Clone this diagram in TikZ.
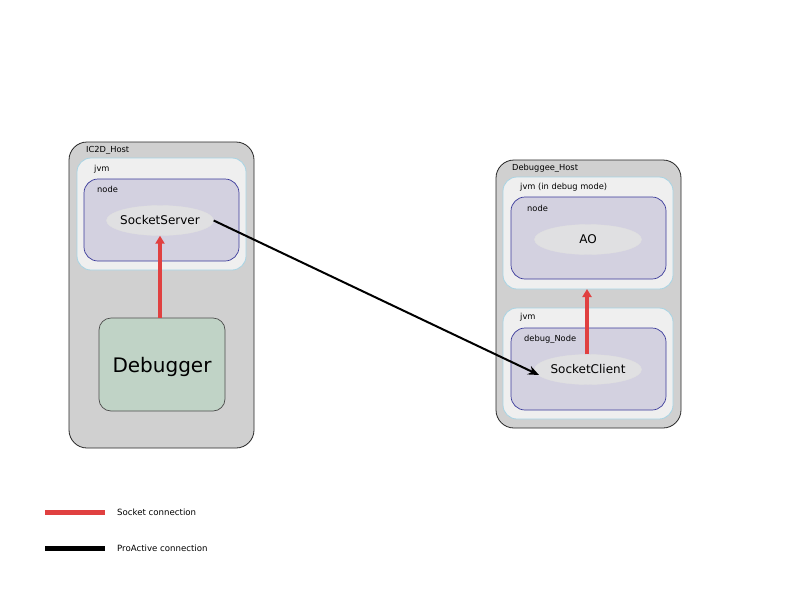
\documentclass[tikz,border=0pt]{standalone}
\usepackage{fontspec}
\setmainfont{DejaVu Sans}
\usetikzlibrary{arrows.meta,shapes.geometric}
\definecolor{hostfill}{HTML}{D0D0D0}
\definecolor{jvmfill}{HTML}{EFEFEF}
\definecolor{jvmborder}{HTML}{A8D4E4}
\definecolor{nodefill}{HTML}{D3D1E0}
\definecolor{nodeborder}{HTML}{3A3A9A}
\definecolor{aofill}{HTML}{E0E0E2}
\definecolor{dbgfill}{HTML}{C0D3C6}
\definecolor{sockred}{HTML}{E04040}
\begin{document}
\begin{tikzpicture}[x=1pt,y=-1pt,
  hostbox/.style={draw=black!85, fill=hostfill, rounded corners=18pt, line width=0.8pt},
  jvmbox/.style={draw=jvmborder, fill=jvmfill, rounded corners=14pt, line width=0.8pt},
  nodebox/.style={draw=nodeborder, fill=nodefill, rounded corners=14pt, line width=0.7pt},
  aobox/.style={ellipse, fill=aofill, draw=black!12, minimum width=107pt, minimum height=30pt, inner xsep=-14pt, inner ysep=0pt, font=\fontsize{12}{14}\selectfont},
  lbl/.style={anchor=west, inner sep=0pt, font=\fontsize{8.3}{10}\selectfont},
  leg/.style={anchor=west, inner sep=0pt, font=\fontsize{8.6}{10}\selectfont},
  sock/.style={draw=sockred, line width=3.5pt, -{Triangle[length=8pt,width=9pt]}},
  proact/.style={draw=black, line width=2pt, -{Stealth[length=11pt,width=9pt]}}
]
\useasboundingbox (0,0) rectangle (800,600);

% IC2D host
\draw[hostbox] (69,142) rectangle (254,448);
\node[lbl] (h1) at (86,150.5) {IC2D\_Host};
\draw[jvmbox] (77,158) rectangle (246,270);
\node[lbl] (j1) at (94,169.5) {jvm};
\draw[nodebox] (84,179) rectangle (239,261);
\node[lbl] (n1) at (97,189.5) {node};
\node[aobox] (ss) at (160,220.5) {SocketServer};
\node[draw=black!70, fill=dbgfill, rounded corners=12pt, minimum width=126pt, minimum height=93pt, line width=0.7pt] (dbg) at (162,364.5) {};
\node[font=\fontsize{20}{24}\selectfont, inner sep=0pt] (dbgt) at (162,367) {Debugger};

% Debuggee host
\draw[hostbox] (496,160) rectangle (681,428);
\node[lbl] (h2) at (512,168.5) {Debuggee\_Host};
\draw[jvmbox] (503,177) rectangle (673,289);
\node[lbl] (j2) at (520,187.5) {jvm (in debug mode)};
\draw[nodebox] (511,197) rectangle (666,279);
\node[lbl] (n2) at (527,208.5) {node};
\node[aobox] (ao) at (588,239.5) {AO};
\draw[jvmbox] (503,308) rectangle (673,419);
\node[lbl] (j3) at (520,317.5) {jvm};
\draw[nodebox] (511,328) rectangle (666,410);
\node[lbl] (n3) at (524,339.5) {debug\_Node};
\node[aobox] (sc) at (588,369.5) {SocketClient};
\coordinate (aobot) at (587,289);

% connectors
\draw[sock] (dbg.north -| ss.south) -- (ss.south);
\draw[sock] (sc.north -| aobot) -- (aobot);
\draw[proact] (ss.east) -- (539,375);

% legend
\coordinate (r1) at (45,512.5);
\coordinate (r2) at (105,512.5);
\draw[sockred, line width=5pt] (r1) -- (r2);
\node[leg] (lt1) at (117,512) {Socket connection};
\coordinate (b1) at (45,548.5);
\coordinate (b2) at (105,548.5);
\draw[black, line width=5pt] (b1) -- (b2);
\node[leg] (lt2) at (117,548.5) {ProActive connection};
\end{tikzpicture}
\end{document}
